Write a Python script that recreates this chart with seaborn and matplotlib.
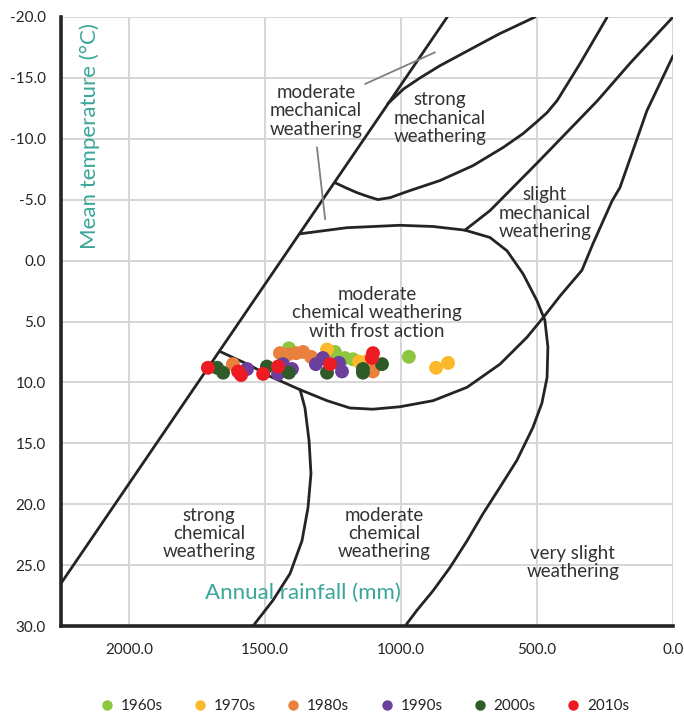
import matplotlib
matplotlib.use("Agg")
import matplotlib.pyplot as plt
import seaborn as sns
import pandas as pd
from matplotlib.lines import Line2D

sns.set_theme(style="white")
plt.rcParams["font.family"] = ["Lato", "DejaVu Sans"]

# ---- observations: annual rainfall (mm) and mean temperature (°C) by decade ----
decades = ["1960s", "1970s", "1980s", "1990s", "2000s", "2010s"]
colors = ["#8dc63f", "#fbb92b", "#e8813b", "#6c3f9c", "#2e5b28", "#ed1c24"]

rain_1960s = [1412, 1243, 1206, 1176, 971]
temp_1960s = [7.2, 7.5, 8.0, 8.1, 7.9]
rain_1970s = [1272, 1154, 1121, 871, 827]
temp_1970s = [7.3, 8.3, 8.2, 8.8, 8.4]
rain_1980s = [1618, 1445, 1416, 1386, 1360, 1331, 1103]
temp_1980s = [8.5, 7.6, 7.7, 7.6, 7.5, 7.9, 9.1]
rain_1990s = [1566, 1452, 1434, 1401, 1313, 1287, 1228, 1217]
temp_1990s = [8.9, 9.3, 8.5, 8.9, 8.5, 8.0, 8.4, 9.1]
rain_2000s = [1676, 1654, 1493, 1412, 1272, 1140, 1140, 1070]
temp_2000s = [8.8, 9.2, 8.7, 9.2, 9.2, 9.2, 8.9, 8.5]
rain_2010s = [1710, 1599, 1588, 1507, 1452, 1261, 1103, 1107]
temp_2010s = [8.8, 9.1, 9.4, 9.3, 8.7, 8.5, 7.6, 8.0]

rain_by_decade = [rain_1960s, rain_1970s, rain_1980s, rain_1990s, rain_2000s, rain_2010s]
temp_by_decade = [temp_1960s, temp_1970s, temp_1980s, temp_1990s, temp_2000s, temp_2010s]

# ---- weathering-region boundaries (rainfall mm, temperature °C) ----
boundary_main = ([830, 2250], [-20.0, 26.5])
boundary_strong_mech_top = ([1048, 990, 930, 857, 757, 640, 507],
                            [-12.9, -14.1, -15.0, -16.0, -17.2, -18.6, -20.0])
boundary_strong_mech_bottom = ([1243, 1200, 1162, 1120, 1085, 1040, 967, 857, 735, 625, 551, 500,
                                463, 426, 342, 243],
                               [-6.4, -5.95, -5.58, -5.25, -5.01, -5.17, -5.75, -6.57, -7.80, -9.28,
                                -10.43, -11.41, -12.15, -13.14, -16.17, -19.95])
boundary_slight_mech = ([765, 673, 500, 279, 158, 0],
                        [-2.5, -4.1, -8.0, -13.1, -16.2, -20.0])
boundary_very_slight = ([0, 96, 195, 224, 294, 335, 415, 478, 537, 636, 757, 882, 1004, 1103,
                         1188, 1272, 1371, 1482, 1555, 1662],
                        [-16.8, -12.3, -6.0, -4.9, -1.4, 0.8, 2.9, 4.7, 6.3, 8.5, 10.4, 11.5, 12.0,
                         12.2, 12.1, 11.5, 10.6, 9.5, 8.6, 7.5])
boundary_frost = ([1371, 1199, 1004, 882, 765, 673, 610, 551, 500, 471, 460, 463, 482, 515, 574,
                   636, 699, 757, 820, 882, 941, 978, 990],
                  [-2.2, -2.7, -2.9, -2.8, -2.5, -1.9, -0.8, 1.1, 3.3, 4.9, 7.1, 9.6, 11.7, 13.7,
                   16.4, 18.6, 20.8, 23.0, 25.2, 27.1, 28.7, 29.8, 30.2])
boundary_strong_chem = ([1371, 1353, 1338, 1331, 1342, 1364, 1408, 1471, 1544, 1552],
                        [10.6, 12.1, 14.8, 17.5, 20.3, 23.0, 25.7, 27.9, 30.0, 30.3])
boundaries = [boundary_main, boundary_strong_mech_top, boundary_strong_mech_bottom,
              boundary_slight_mech, boundary_very_slight, boundary_frost, boundary_strong_chem]

leader_lines = [([1132, 875], [-14.5, -17.1]), ([1309, 1279], [-9.3, -3.4])]

region_labels = ["moderate\nmechanical\nweathering",
                 "strong\nmechanical\nweathering",
                 "slight\nmechanical\nweathering",
                 "moderate\nchemical weathering\nwith frost action",
                 "strong\nchemical\nweathering",
                 "moderate\nchemical\nweathering",
                 "very slight\nweathering"]
region_label_rain = [1312, 857, 471, 1088, 1706, 1063, 368]
region_label_temp = [-12.3, -11.7, -3.9, 4.3, 22.4, 22.4, 24.8]

x_ticks = [2000, 1500, 1000, 500, 0]
y_ticks = [-20, -15, -10, -5, 0, 5, 10, 15, 20, 25, 30]
x_minor = [1941, 1699, 1456, 1213, 967, 724, 482, 239]
y_minor = [-11.66, -0.9, 9.52, 20.28]

# ---- figure ----
W, H = 684, 714
fig = plt.figure(figsize=(W / 100, H / 100), dpi=100)
ax = fig.add_axes([61 / W, 88 / H, 612 / W, 609 / H])

ink = "#262324"
teal = "#3aa69a"

ax.set_xlim(2250, 0)
ax.set_ylim(30, -20)
ax.set_xticks(x_ticks)
ax.set_xticklabels([f"{v:.1f}" for v in x_ticks])
ax.set_yticks(y_ticks)
ax.set_yticklabels([f"{v:.1f}" for v in y_ticks])
ax.set_xticks(x_minor, minor=True)
ax.set_yticks(y_minor, minor=True)
ax.grid(True, which="major", color="#d6d6d6", lw=1.4)
ax.set_axisbelow(True)
ax.tick_params(which="major", length=0, labelsize=11, colors=ink)
ax.tick_params(axis="x", which="major", pad=12)
ax.tick_params(axis="y", which="major", pad=11)
ax.tick_params(which="minor", direction="in", length=9, width=2.2, color=ink)
for side in ["top", "right"]:
    ax.spines[side].set_visible(False)
for side in ["left", "bottom"]:
    ax.spines[side].set_color(ink)
    ax.spines[side].set_linewidth(2.6)

for xs, ys in boundaries:
    ax.plot(xs, ys, color=ink, lw=2.0, solid_capstyle="round", solid_joinstyle="round", zorder=2)
for xs, ys in leader_lines:
    ax.plot(xs, ys, color="#7f7f7f", lw=1.3, zorder=2)

frames = [pd.DataFrame({"rain": r, "temp": t, "decade": d})
          for r, t, d in zip(rain_by_decade, temp_by_decade, decades)]
df = pd.concat(frames, ignore_index=True)
sns.scatterplot(data=df, x="rain", y="temp", hue="decade", hue_order=decades,
                palette=dict(zip(decades, colors)), s=100, linewidth=0,
                legend=False, ax=ax, zorder=3)
ax.set_xlabel("")
ax.set_ylabel("")

for label, rx, ty in zip(region_labels, region_label_rain, region_label_temp):
    ax.text(rx, ty, label, ha="center", va="center", fontsize=13.5, color="#333333",
            linespacing=1.1, zorder=4)

ax.text(1360, 27.3, "Annual rainfall (mm)", ha="center", va="center", fontsize=16, color=teal)
ax.text(2143, -10.2, "Mean temperature (°C)", ha="center", va="center", fontsize=16,
        color=teal, rotation=90)

handles = [Line2D([0], [0], marker="o", linestyle="", markersize=7.5, markerfacecolor=c,
                  markeredgewidth=0) for c in colors]
fig.legend(handles, decades, loc="center", bbox_to_anchor=(364 / W, 1 - 706 / H), ncol=6,
           frameon=False, fontsize=11, handletextpad=0.4, columnspacing=1.95,
           handlelength=1.0, labelcolor=ink)

fig.savefig("out.png", dpi=100)
